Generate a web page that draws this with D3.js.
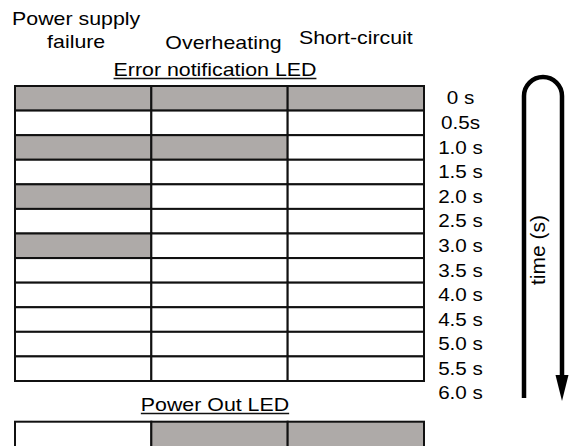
<!DOCTYPE html>
<html>
<head>
<meta charset="utf-8">
<script src="https://cdn.jsdelivr.net/npm/d3@7"></script>
<style>
  body { margin: 0; background: #fff; }
  text { font-family: "Liberation Sans", Arial, sans-serif; fill: #000; }
</style>
</head>
<body>
<div id="chart"></div>
<script>
// LED blink pattern table: which error shows which blink sequence

const columns = ['Power supply failure', 'Overheating', 'Short-circuit'];
const headerLines = [['Power supply', 'failure'], ['Overheating'], ['Short-circuit']];
const timeLabels = ['0 s', '0.5s', '1.0 s', '1.5 s', '2.0 s', '2.5 s', '3.0 s',
                    '3.5 s', '4.0 s', '4.5 s', '5.0 s', '5.5 s', '6.0 s'];
// 1 = LED on (grey), 0 = off, one row per 0.5 s step
const errorLed = [
    [1, 1, 1],
    [0, 0, 0],
    [1, 1, 0],
    [0, 0, 0],
    [1, 0, 0],
    [0, 0, 0],
    [1, 0, 0],
    [0, 0, 0],
    [0, 0, 0],
    [0, 0, 0],
    [0, 0, 0],
    [0, 0, 0]
];
const powerOutLed = [0, 1, 1];
const errorTitle = 'Error notification LED';
const powerTitle = 'Power Out LED';
const axisTitle = 'time (s)';

const W = 571, H = 446;
const onColor = '#aeaaa8';
const stretch = 1.22;   // text in the picture is a bit wide

const svg = d3.select('#chart').append('svg')
    .attr('width', W)
    .attr('height', H);

const x = d3.scaleBand()
    .domain(columns)
    .range([15, 424]);

const y = d3.scaleLinear()
    .domain([0, errorLed.length])
    .range([86, 381]);

const rowH = y(1) - y(0);

// helper for the wide text
function wideText(g, tx, ty, str, size) {
    return g.append('text')
        .attr('transform', `translate(${tx},${ty}) scale(${stretch},1)`)
        .attr('text-anchor', 'middle')
        .style('font-size', (size || 17.5) + 'px')
        .text(str);
}

function underlined(tx, ty, str) {
    const t = wideText(svg, tx, ty, str);
    const w = t.node().getComputedTextLength() * stretch;
    svg.append('line')
        .attr('x1', tx - w / 2).attr('x2', tx + w / 2)
        .attr('y1', ty + 2.5).attr('y2', ty + 2.5)
        .attr('stroke', '#111')
        .attr('stroke-width', 1.6);
}

// column headers
const headerDx = [-7, 4, 0];
const headerBase = [[25, 48], [49], [44]];
headerLines.forEach((lines, c) => {
    lines.forEach((line, k) => {
        wideText(svg, x(columns[c]) + x.bandwidth() / 2 + headerDx[c], headerBase[c][k], line);
    });
});

underlined(215, 76, errorTitle);

// error LED grid
const cells = [];
errorLed.forEach((row, r) => row.forEach((v, c) => cells.push({ r, c, v })));

svg.append('g')
    .selectAll('rect')
    .data(cells)
    .join('rect')
    .attr('x', d => x(columns[d.c]))
    .attr('y', d => y(d.r))
    .attr('width', x.bandwidth())
    .attr('height', rowH)
    .attr('fill', d => d.v ? onColor : '#fff')
    .attr('stroke', '#111')
    .attr('stroke-width', 2);

// time labels, one per half second step
svg.append('g')
    .selectAll('text')
    .data(timeLabels)
    .join('text')
    .attr('transform', (d, i) => `translate(460.5,${y(i + 0.5) + 6.2}) scale(1.18,1)`)
    .attr('text-anchor', 'middle')
    .style('font-size', '17.5px')
    .text(d => d);

// power out LED (bottom edge runs off the picture)
const powerTop = 421.7;
underlined(215, 411, powerTitle);

svg.append('g')
    .selectAll('rect')
    .data(powerOutLed)
    .join('rect')
    .attr('x', (d, i) => x(columns[i]))
    .attr('y', powerTop)
    .attr('width', x.bandwidth())
    .attr('height', rowH + 4)
    .attr('fill', d => d ? onColor : '#fff')
    .attr('stroke', '#111')
    .attr('stroke-width', 2);

// time arrow
const ax1 = 524, ax2 = 562, r = (ax2 - ax1) / 2;
const arcY = 96;
svg.append('path')
    .attr('d', `M${ax1},398 V${arcY} A${r},${r} 0 0 1 ${ax2},${arcY} V380`)
    .attr('fill', 'none')
    .attr('stroke', '#000')
    .attr('stroke-width', 4.5);

svg.append('path')
    .attr('d', `M${ax2 - 6.5},375 L${ax2 + 6.5},375 L${ax2},401 Z`)
    .attr('fill', '#000');

svg.append('text')
    .attr('transform', 'translate(545,250) rotate(-90)')
    .attr('text-anchor', 'middle')
    .style('font-size', '21px')
    .text(axisTitle);
</script>
</body>
</html>
